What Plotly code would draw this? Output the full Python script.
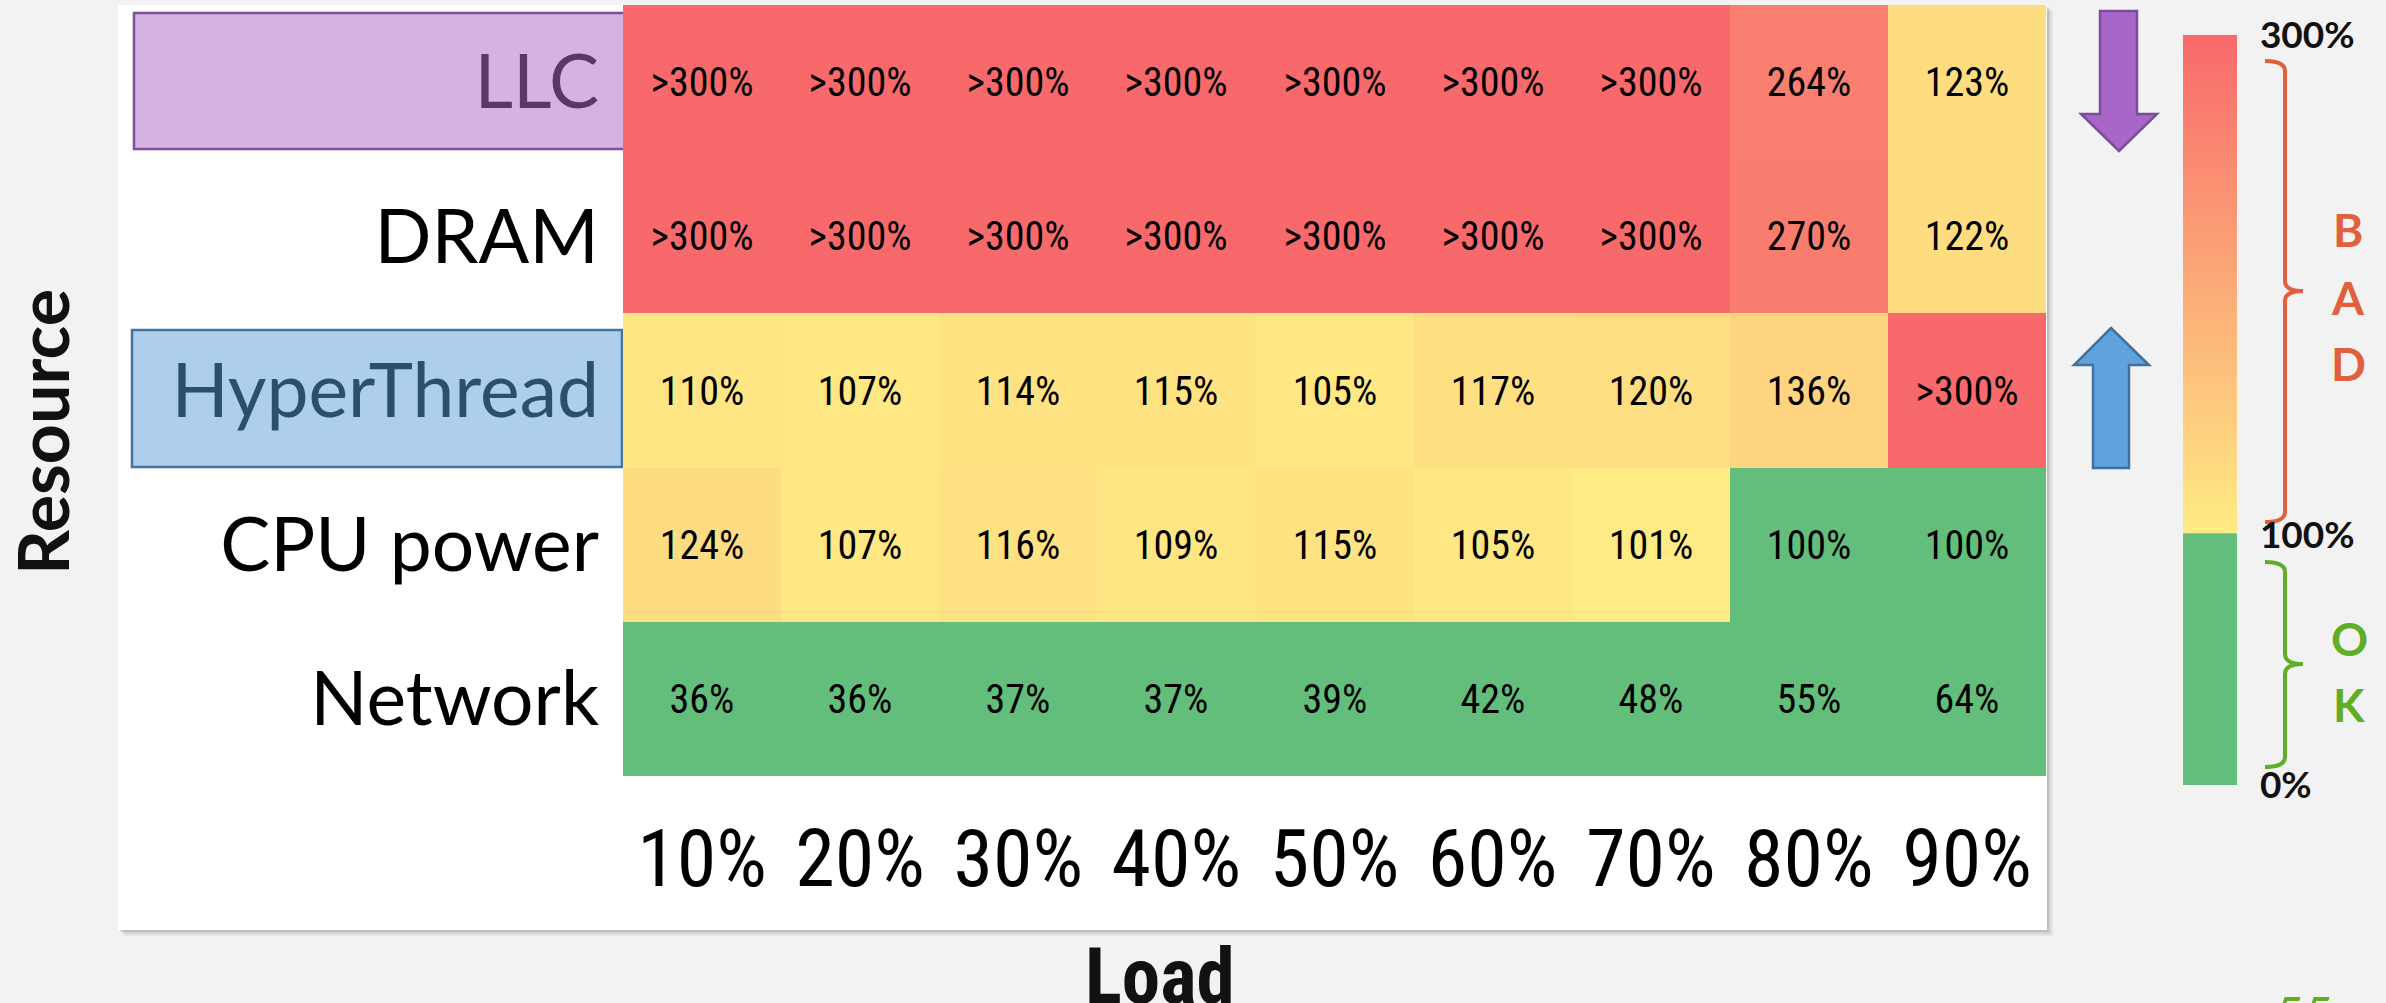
import plotly.graph_objects as go

# ---- data -------------------------------------------------------------
load_levels = ["10%", "20%", "30%", "40%", "50%", "60%", "70%", "80%", "90%"]
resources = ["LLC", "DRAM", "HyperThread", "CPU power", "Network"]

# measured tail latency relative to target (percent); ">300" = beyond the scale
llc = [">300", ">300", ">300", ">300", ">300", ">300", ">300", "264", "123"]
dram = [">300", ">300", ">300", ">300", ">300", ">300", ">300", "270", "122"]
hyperthread = ["110", "107", "114", "115", "105", "117", "120", "136", ">300"]
cpu_power = ["124", "107", "116", "109", "115", "105", "101", "100", "100"]
network = ["36", "36", "37", "37", "39", "42", "48", "55", "64"]

scale_ticks = [0, 100, 300]
scale_labels = ["0%", "100%", "300%"]

rows = [llc, dram, hyperthread, cpu_power, network]
SCALE_MAX = 300


def to_number(s):
    # values past the top of the scale are pinned to the scale maximum
    return SCALE_MAX if s.startswith(">") else float(s)


z = [[to_number(v) for v in r] for r in rows]
text = [[v + "%" for v in r] for r in rows]

# ---- geometry (pixels) -----------------------------------------------
W, H = 2386, 1003
PL, PR, PT, PB = 623, 2046, 5, 776          # heatmap plot area
PW, PH = PR - PL, PB - PT


def px(x):
    return (x - PL) / PW


def py(y):
    return (PB - y) / PH


def path(points, close=True):
    s = "M " + " L ".join(f"{px(x):.5f},{py(y):.5f}" for x, y in points)
    return s + (" Z" if close else "")


def brace(x_end, x_line, x_tip, y_top, y_mid, y_bot, r=10):
    p = lambda x, y: f"{px(x):.5f},{py(y):.5f}"
    return (f"M {p(x_end, y_top)} Q {p(x_line, y_top)} {p(x_line, y_top + r)} "
            f"L {p(x_line, y_mid - r)} Q {p(x_line, y_mid)} {p(x_tip, y_mid)} "
            f"Q {p(x_line, y_mid)} {p(x_line, y_mid + r)} "
            f"L {p(x_line, y_bot - r)} Q {p(x_line, y_bot)} {p(x_end, y_bot)}")


GREEN = "#63be7b"
YELLOW = "#ffeb84"
RED = "#f8696b"
colorscale = [
    [0.0, GREEN],
    [100.5 / SCALE_MAX, GREEN],
    [100.8 / SCALE_MAX, YELLOW],
    [1.0, RED],
]

NARROW = "Roboto Condensed, Roboto, sans-serif"
GEOM = "Lato, Open Sans, sans-serif"

label_colors = {"LLC": "#573868", "HyperThread": "#2c4f6e"}
ticktext = [f"<span style='color:{label_colors[r]}'>{r}</span>" if r in label_colors else r
            for r in resources]

fig = go.Figure(
    go.Heatmap(
        z=z,
        x=load_levels,
        y=resources,
        text=text,
        texttemplate="%{text}",
        textfont=dict(family=NARROW, size=40, color="black"),
        colorscale=colorscale,
        zmin=0,
        zmax=SCALE_MAX,
        xgap=0,
        ygap=0,
        hoverinfo="skip",
        colorbar=dict(
            thicknessmode="pixels", thickness=54,
            lenmode="pixels", len=750,
            x=px(2183), xanchor="left", xpad=0,
            y=py(35), yanchor="top", ypad=0,
            outlinewidth=0,
            tickvals=scale_ticks,
            ticktext=[f"<b>{t}</b>" for t in scale_labels],
            ticks="outside", ticklen=16, tickcolor="rgba(0,0,0,0)",
            tickfont=dict(family="Lato", size=37, color="#111111"),
        ),
    )
)

shapes = []
# slide panel with a soft drop shadow
for off, a in [(6, 0.05), (4, 0.07), (2, 0.10)]:
    shapes.append(dict(type="rect", xref="paper", yref="paper", layer="below",
                       x0=px(118 + off), x1=px(2047 + off), y0=py(5 + off), y1=py(930 + off),
                       line=dict(width=0), fillcolor=f"rgba(0,0,0,{a})"))
shapes.append(dict(type="rect", xref="paper", yref="paper", layer="below",
                   x0=px(118), x1=px(2047), y0=py(5), y1=py(930),
                   line=dict(width=0), fillcolor="white"))
# highlighted row labels
shapes.append(dict(type="rect", xref="paper", yref="paper", layer="below",
                   x0=px(134), x1=px(625), y0=py(13), y1=py(149),
                   line=dict(width=2.5, color="#7e4f9b"), fillcolor="#d4b3e3"))
shapes.append(dict(type="rect", xref="paper", yref="paper", layer="below",
                   x0=px(132), x1=px(622), y0=py(330), y1=py(467),
                   line=dict(width=2.5, color="#44759f"), fillcolor="#aecfeb"))
# arrows
shapes.append(dict(type="path", xref="paper", yref="paper",
                   path=path([(2100, 11), (2137, 11), (2137, 114), (2157, 114),
                              (2119, 151), (2081, 114), (2100, 114)]),
                   fillcolor="#a866c8", line=dict(color="#7a4c9a", width=2.5)))
shapes.append(dict(type="path", xref="paper", yref="paper",
                   path=path([(2111, 328), (2149, 365), (2129, 365), (2129, 468),
                              (2093, 468), (2093, 365), (2074, 365)]),
                   fillcolor="#5fa3dc", line=dict(color="#40719c", width=2.5)))
# braces next to the colour scale
shapes.append(dict(type="path", xref="paper", yref="paper",
                   path=brace(2265, 2285, 2303, 61, 291, 522),
                   line=dict(color="#e0603e", width=4)))
shapes.append(dict(type="path", xref="paper", yref="paper",
                   path=brace(2265, 2285, 2303, 562, 664, 767),
                   line=dict(color="#5fae26", width=4)))

annotations = []
# axis titles
annotations.append(dict(text="<b>Resource</b>", xref="paper", yref="paper",
                        x=px(42), y=py(432), xanchor="center", yanchor="middle",
                        textangle=-90, showarrow=False,
                        font=dict(family="Lato", size=70, color="#111111")))
annotations.append(dict(text="<b>Load</b>", xref="paper", yref="paper",
                        x=px(1160), y=py(930), xanchor="center", yanchor="top",
                        showarrow=False,
                        font=dict(family=NARROW, size=77, color="#111111")))
# BAD / OK letters
for ch, yc in [("B", 230), ("A", 297), ("D", 363)]:
    annotations.append(dict(text=f"<b>{ch}</b>", xref="paper", yref="paper",
                            x=px(2348), y=py(yc), xanchor="center", yanchor="middle",
                            showarrow=False,
                            font=dict(family="Lato", size=46, color="#e0603e")))
for ch, yc in [("O", 638), ("K", 704)]:
    annotations.append(dict(text=f"<b>{ch}</b>", xref="paper", yref="paper",
                            x=px(2349), y=py(yc), xanchor="center", yanchor="middle",
                            showarrow=False,
                            font=dict(family="Lato", size=46, color="#5fae26")))
# slide number
annotations.append(dict(text="<i>55</i>", xref="paper", yref="paper",
                        x=px(2303), y=py(982), xanchor="center", yanchor="top",
                        showarrow=False,
                        font=dict(family="Lato", size=50, color="#5fae26")))

fig.update_layout(
    width=W, height=H,
    margin=dict(l=PL, r=W - PR, t=PT, b=H - PB, pad=0),
    paper_bgcolor="#f2f2f2",
    plot_bgcolor="white",
    shapes=shapes,
    annotations=annotations,
    xaxis=dict(
        type="category", showgrid=False, zeroline=False, showline=False,
        ticks="outside", ticklen=13, tickcolor="rgba(0,0,0,0)",
        tickfont=dict(family=NARROW, size=80, color="black"),
    ),
    yaxis=dict(
        type="category", autorange="reversed", showgrid=False, zeroline=False, showline=False,
        ticks="outside", ticklen=8, tickcolor="rgba(0,0,0,0)",
        tickvals=resources, ticktext=ticktext,
        tickfont=dict(family=GEOM, size=75, color="black"),
    ),
)

fig.write_html("out.html")
